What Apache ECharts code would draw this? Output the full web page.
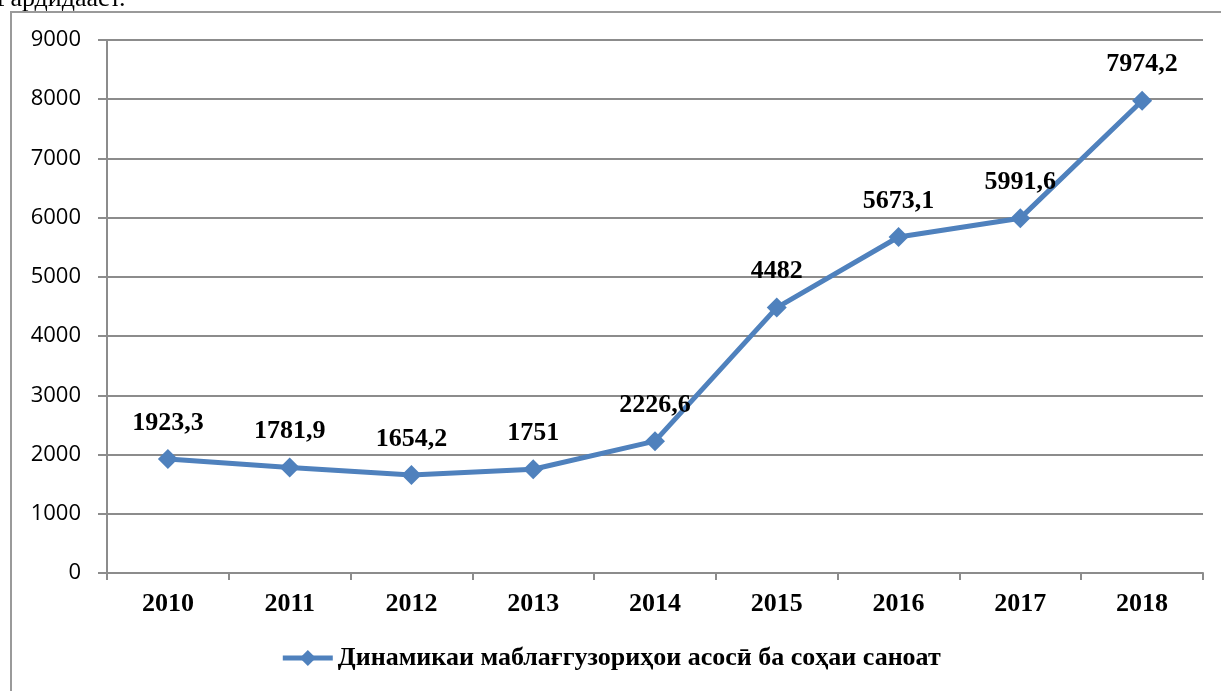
<!DOCTYPE html>
<html>
<head>
<meta charset="utf-8">
<script src="https://cdn.jsdelivr.net/npm/echarts@6/dist/echarts.min.js"></script>
<style>
  html, body { margin: 0; padding: 0; background: #fff; }
  #chart { width: 1221px; height: 691px; }
</style>
</head>
<body>
<div id="chart"></div>
<script>
const years = ['2010', '2011', '2012', '2013', '2014', '2015', '2016', '2017', '2018']
const investment = [1923.3, 1781.9, 1654.2, 1751, 2226.6, 4482, 5673.1, 5991.6, 7974.2]
const seriesName = 'Динамикаи маблағгузориҳои асосӣ ба соҳаи саноат'

const chart = echarts.init(document.getElementById('chart'))

const option = {
  backgroundColor: '#fff',
  animation: false,
  graphic: [
    {
      type: 'rect',
      shape: { x: 11, y: 12, width: 1240, height: 700 },
      style: { fill: 'none', stroke: '#9a9a9a', lineWidth: 2 }
    },
    {
      type: 'text',
      left: -4,
      top: -14,
      style: { text: 'Гардидааст.', font: '26px "Liberation Serif"', fill: '#000' }
    }
  ],
  grid: { left: 107, right: 18, top: 40, bottom: 118 },
  legend: {
    bottom: 15,
    left: 'center',
    itemWidth: 50,
    itemHeight: 20,
    itemGap: 4,
    data: [seriesName],
    lineStyle: { width: 5 },
    textStyle: { fontFamily: 'Liberation Serif', fontWeight: 'bold', fontSize: 26, color: '#000' }
  },
  xAxis: {
    type: 'category',
    data: years,
    boundaryGap: true,
    axisLine: { lineStyle: { color: '#8c8c8c', width: 2 } },
    axisTick: { show: true, alignWithLabel: false, length: 7, lineStyle: { color: '#8c8c8c', width: 2 } },
    axisLabel: { fontFamily: 'Liberation Serif', fontWeight: 'bold', fontSize: 26, color: '#000', margin: 18 }
  },
  yAxis: {
    type: 'value',
    min: 0,
    max: 9000,
    interval: 1000,
    axisLine: { show: true, lineStyle: { color: '#8c8c8c', width: 2 } },
    axisTick: { show: true, inside: false, length: 9, lineStyle: { color: '#8c8c8c', width: 2 } },
    axisLabel: {
      fontFamily: 'Open Sans',
      fontSize: 22,
      color: '#000',
      margin: 26,
      formatter: v => String(v)
    },
    splitLine: { lineStyle: { color: '#8c8c8c', width: 2 } }
  },
  series: [
    {
      name: seriesName,
      type: 'line',
      data: investment,
      symbol: 'diamond',
      symbolSize: 20,
      lineStyle: { color: '#4f81bd', width: 5 },
      itemStyle: { color: '#4f81bd' },
      label: {
        show: true,
        position: 'top',
        distance: 13,
        fontFamily: 'Liberation Serif',
        fontWeight: 'bold',
        fontSize: 26,
        color: '#000',
        formatter: p => String(p.value).replace('.', ',')
      }
    }
  ]
}

chart.setOption(option)
</script>
</body>
</html>
